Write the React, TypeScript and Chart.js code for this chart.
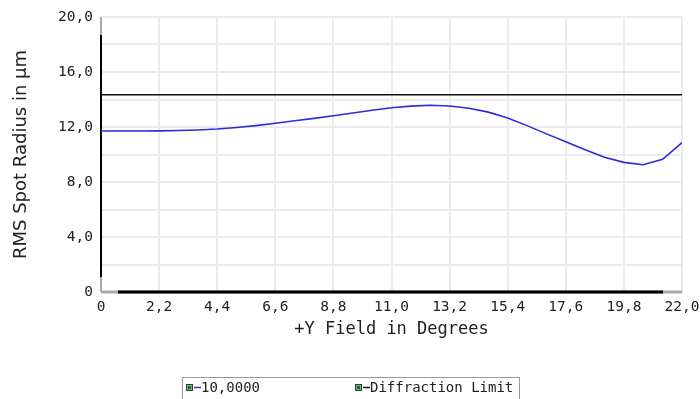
import React, { useEffect, useRef } from 'react';
import { Chart, registerables } from 'chart.js';

Chart.register(...registerables);

// Field angle samples (degrees)
const fieldDeg = [
  0, 0.733, 1.467, 2.2, 2.933, 3.667, 4.4, 5.133, 5.867, 6.6, 7.333, 8.067, 8.8,
  9.533, 10.267, 11.0, 11.733, 12.467, 13.2, 13.933, 14.667, 15.4, 16.133, 16.867,
  17.6, 18.333, 19.067, 19.8, 20.533, 21.267, 22.0,
];
// RMS spot radius (µm) for wavelength 10,0000
const rmsSpot = [
  11.71, 11.71, 11.71, 11.72, 11.74, 11.78, 11.85, 11.96, 12.1, 12.27, 12.45, 12.63,
  12.82, 13.02, 13.22, 13.4, 13.52, 13.58, 13.53, 13.36, 13.08, 12.66, 12.1, 11.5,
  10.93, 10.35, 9.8, 9.43, 9.26, 9.65, 10.86,
];
// Diffraction limit (µm)
const diffractionField = [0, 22];
const diffractionLimit = [14.35, 14.35];

const seriesNames = ['10,0000', 'Diffraction Limit'];
const seriesColors = ['#2b2bdc', '#111111'];

const xTicks = [0, 2.2, 4.4, 6.6, 8.8, 11.0, 13.2, 15.4, 17.6, 19.8, 22.0];
const xTickLabels = ['0', '2,2', '4,4', '6,6', '8,8', '11,0', '13,2', '15,4', '17,6', '19,8', '22,0'];
const yTickValues = [0, 4, 8, 12, 16, 20];
const yTickLabels = ['0', '4,0', '8,0', '12,0', '16,0', '20,0'];

const MONO = '"DejaVu Sans Mono", monospace';
const SANS = '"DejaVu Sans", Verdana, sans-serif';

const axisLinesPlugin = {
  id: 'axisLines',
  beforeDatasetsDraw(chart: any) {
    const { ctx, chartArea } = chart;
    const { left, right, top, bottom } = chartArea;
    ctx.save();
    // left axis: gray ends, black middle
    ctx.lineWidth = 2;
    ctx.strokeStyle = '#a8a8a8';
    ctx.beginPath();
    ctx.moveTo(left, top);
    ctx.lineTo(left, bottom);
    ctx.stroke();
    ctx.strokeStyle = '#000';
    ctx.beginPath();
    ctx.moveTo(left, top + 18);
    ctx.lineTo(left, bottom - 15);
    ctx.stroke();
    // bottom axis
    ctx.lineWidth = 3;
    ctx.strokeStyle = '#a8a8a8';
    ctx.beginPath();
    ctx.moveTo(left, bottom);
    ctx.lineTo(right, bottom);
    ctx.stroke();
    ctx.strokeStyle = '#000';
    ctx.beginPath();
    ctx.moveTo(left + 17, bottom);
    ctx.lineTo(right - 19, bottom);
    ctx.stroke();
    ctx.restore();
  },
};

const legendPlugin = {
  id: 'boxLegend',
  afterDraw(chart: any) {
    const { ctx, width, height } = chart;
    const boxW = 337;
    const boxL = Math.round(width / 2 - boxW / 2) + 0.5;
    const boxT = 377.5;
    ctx.save();
    ctx.fillStyle = '#ffffff';
    ctx.strokeStyle = '#9a9a9a';
    ctx.lineWidth = 1;
    ctx.fillRect(boxL, boxT, boxW, height - boxT + 2);
    ctx.strokeRect(boxL, boxT, boxW, height - boxT + 2);
    const offsets = [3, 172];
    const cy = 387.5;
    ctx.font = `14px ${MONO}`;
    ctx.textBaseline = 'middle';
    ctx.textAlign = 'left';
    seriesNames.forEach((name, i) => {
      const x0 = Math.round(boxL + offsets[i]);
      // icon
      ctx.fillStyle = '#2f3f2f';
      ctx.fillRect(x0, cy - 3.5, 7, 7);
      ctx.fillStyle = '#6fbf6f';
      ctx.fillRect(x0 + 1, cy - 2.5, 5, 5);
      ctx.fillStyle = '#2f5f2f';
      ctx.fillRect(x0 + 2, cy - 1.5, 3, 3);
      // line
      ctx.strokeStyle = seriesColors[i];
      ctx.lineWidth = 1.5;
      ctx.beginPath();
      ctx.moveTo(x0 + 8, cy);
      ctx.lineTo(x0 + 15, cy);
      ctx.stroke();
      ctx.fillStyle = '#222';
      ctx.fillText(name, x0 + 15, cy + 0.5);
    });
    ctx.restore();
  },
};

export default function App() {
  const canvasRef = useRef<HTMLCanvasElement | null>(null);

  useEffect(() => {
    document.body.style.margin = '0';
    document.body.style.overflow = 'hidden';
    const canvas = canvasRef.current;
    if (!canvas) return;
    const chart = new Chart(canvas, {
      type: 'line',
      data: {
        datasets: [
          {
            label: seriesNames[0],
            data: fieldDeg.map((x, i) => ({ x, y: rmsSpot[i] })),
            borderColor: seriesColors[0],
            borderWidth: 1.6,
            pointRadius: 0,
            tension: 0,
            fill: false,
          },
          {
            label: seriesNames[1],
            data: diffractionField.map((x, i) => ({ x, y: diffractionLimit[i] })),
            borderColor: seriesColors[1],
            borderWidth: 1.6,
            pointRadius: 0,
            tension: 0,
            fill: false,
          },
        ],
      },
      options: {
        animation: false,
        responsive: false,
        devicePixelRatio: 1,
        layout: { padding: { top: 17, right: 18, bottom: 54, left: 0 } },
        plugins: {
          legend: { display: false },
          tooltip: { enabled: false },
        },
        scales: {
          x: {
            type: 'linear',
            min: 0,
            max: 22,
            afterBuildTicks: (scale: any) => {
              scale.ticks = xTicks.map((v) => ({ value: v }));
            },
            afterFit: (scale: any) => {
              scale.height = 53;
              scale.paddingLeft = 0;
              scale.paddingRight = 0;
            },
            grid: { color: '#ebebeb', lineWidth: 2, drawTicks: false },
            border: { display: false },
            ticks: {
              autoSkip: false,
              maxRotation: 0,
              padding: 7,
              color: '#222',
              font: { family: MONO, size: 14.5 },
              callback: (_v: any, i: number) => xTickLabels[i],
            },
            title: {
              display: true,
              text: '+Y Field in Degrees',
              color: '#222',
              font: { family: MONO, size: 17 },
              padding: { top: 0, bottom: 5 },
            },
          },
          y: {
            type: 'linear',
            min: 0,
            max: 20,
            afterFit: (scale: any) => {
              scale.width = 101;
            },
            grid: { color: '#ebebeb', lineWidth: 2, drawTicks: false },
            border: { display: false },
            ticks: {
              stepSize: 2,
              padding: 8,
              color: '#222',
              font: { family: MONO, size: 14.5 },
              callback: (v: any) => {
                const idx = yTickValues.indexOf(Number(v));
                return idx >= 0 ? yTickLabels[idx] : '';
              },
            },
            title: {
              display: true,
              text: 'RMS Spot Radius in µm',
              color: '#222',
              font: { family: SANS, size: 18 },
              padding: { top: 11, bottom: 0 },
            },
          },
        },
      },
      plugins: [axisLinesPlugin, legendPlugin],
    } as any);
    return () => chart.destroy();
  }, []);

  return (
    <div style={{ width: 700, height: 399, background: '#fff' }}>
      <canvas ref={canvasRef} width={700} height={399} style={{ display: 'block' }} />
    </div>
  );
}
